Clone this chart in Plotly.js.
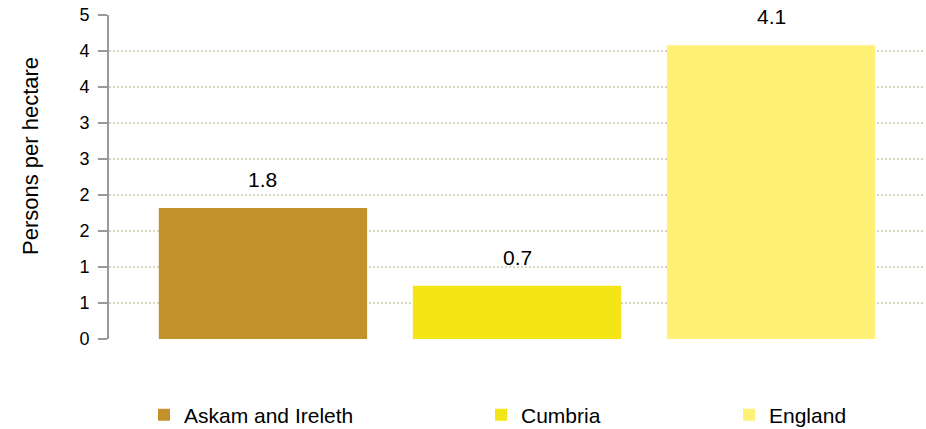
<!DOCTYPE html>
<html>
<head>
<meta charset="utf-8">
<script src="https://cdn.plot.ly/plotly-3.0.1.min.js"></script>
<style>html,body{margin:0;padding:0;background:#fff;}#chart{width:926px;height:429px;}</style>
</head>
<body>
<div id="chart"></div>
<script>
const categories = ["Askam and Ireleth", "Cumbria", "England"];
const values = [1.82, 0.74, 4.08];
const labels = ["1.8", "0.7", "4.1"];
const colors = ["#C4922C", "#F4E616", "#FFF176"];
const tickVals = [0, 0.5, 1, 1.5, 2, 2.5, 3, 3.5, 4, 4.5];
const tickText = ["0", "1", "1", "2", "2", "3", "3", "4", "4", "5"];
const yTitle = "Persons per hectare";
const legendX = [144, 481, 729];

const FONT = "Liberation Sans, Arial, sans-serif";
const legendNames = ["legend", "legend2", "legend3"];

const traces = categories.map((c, i) => ({
  type: "bar",
  x: [i],
  y: [values[i]],
  name: c,
  width: 0.82,
  marker: {color: colors[i], line: {width: 0}},
  legend: legendNames[i],
  hoverinfo: "skip"
}));

const annotations = categories.map((c, i) => ({
  x: i, y: values[i], text: labels[i],
  xref: "x", yref: "y",
  showarrow: false, yanchor: "bottom", yshift: 15,
  font: {size: 21, family: FONT, color: "#000"}
}));
annotations.push({
  text: yTitle, textangle: -90,
  xref: "paper", yref: "paper",
  x: 0, xshift: -79, xanchor: "center",
  y: (339 - 156) / 324, yanchor: "middle",
  showarrow: false,
  font: {size: 22, family: FONT, color: "#000"}
});

const layout = {
  width: 926, height: 429,
  margin: {l: 109, r: 1, t: 15, b: 90},
  paper_bgcolor: "#ffffff",
  plot_bgcolor: "#ffffff",
  barmode: "overlay",
  font: {family: FONT, color: "#000", size: 16},
  xaxis: {
    range: [-0.606, 2.606],
    showticklabels: false,
    showgrid: false,
    zeroline: false,
    showline: false,
    ticks: ""
  },
  yaxis: {
    range: [0, 4.5],
    tickvals: tickVals,
    ticktext: tickText,
    showgrid: true,
    gridcolor: "#DAD5BE",
    gridwidth: 2,
    griddash: "2px,2px",
    zeroline: false,
    showline: true,
    linecolor: "#999999",
    linewidth: 2,
    ticks: "outside",
    ticklen: 9,
    tickwidth: 2,
    tickcolor: "#999999",
    ticklabelstandoff: 5,
    tickfont: {size: 18, family: FONT, color: "#000"}
  },
  annotations: annotations,
  showlegend: true
};
legendNames.forEach((ln, i) => {
  layout[ln] = {
    orientation: "h",
    xref: "container", yref: "container",
    x: legendX[i] / 926, xanchor: "left",
    y: 1 - 415 / 429, yanchor: "middle",
    font: {size: 21, family: FONT, color: "#000"},
    bgcolor: "rgba(0,0,0,0)",
    borderwidth: 0
  };
});

Plotly.newPlot("chart", traces, layout, {displayModeBar: false, staticPlot: true});
</script>
</body>
</html>
